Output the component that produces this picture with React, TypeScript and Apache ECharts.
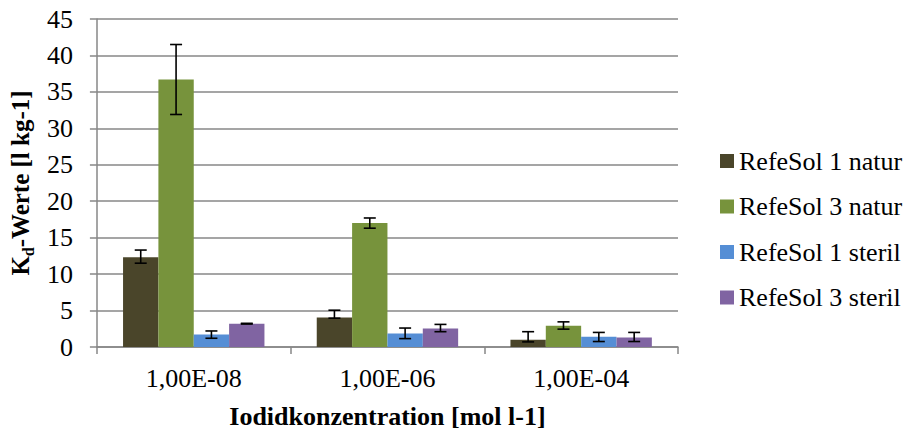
import React, { useEffect, useRef } from "react";
import * as echarts from "echarts";

// Iodide concentrations (x categories)
const categories = ["1,00E-08", "1,00E-06", "1,00E-04"];

// Kd values per soil sample
const seriesNames = ["RefeSol 1 natur", "RefeSol 3 natur", "RefeSol 1 steril", "RefeSol 3 steril"];
const refesol1Natur = [12.3, 4.05, 1.0];
const refesol3Natur = [36.7, 17.0, 2.9];
const refesol1Steril = [1.7, 1.85, 1.4];
const refesol3Steril = [3.2, 2.55, 1.3];

// Error bar ranges (lower / upper end)
const refesol1NaturLow = [11.5, 3.95, 0.7];
const refesol1NaturHigh = [13.3, 5.05, 2.1];
const refesol3NaturLow = [31.9, 16.3, 2.45];
const refesol3NaturHigh = [41.5, 17.7, 3.45];
const refesol1SterilLow = [1.2, 1.15, 0.75];
const refesol1SterilHigh = [2.2, 2.6, 2.0];
const refesol3SterilLow = [3.15, 2.1, 0.75];
const refesol3SterilHigh = [3.25, 3.1, 2.0];

// Y-axis scale
const yMin = 0;
const yMax = 45;
const yStep = 5;

const colors = ["#4A452A", "#77933C", "#558ED5", "#8064A2"];

const FONT = "'Liberation Serif', 'Times New Roman', serif";
const FS = 26;
const AXIS_GREY = "#878787";
const CATEGORY_GAP = 0.27;

export default function App() {
  const ref = useRef<HTMLDivElement>(null);

  useEffect(() => {
    if (!ref.current) return;
    const chart = echarts.init(ref.current, undefined, { renderer: "svg" });

    const values = [refesol1Natur, refesol3Natur, refesol1Steril, refesol3Steril];
    const lows = [refesol1NaturLow, refesol3NaturLow, refesol1SterilLow, refesol3SterilLow];
    const highs = [refesol1NaturHigh, refesol3NaturHigh, refesol1SterilHigh, refesol3SterilHigh];

    const errorData: number[][] = [];
    lows.forEach((lowArr, si) => {
      lowArr.forEach((lo, ci) => {
        errorData.push([ci, lo, highs[si][ci], si]);
      });
    });

    const barSeries = seriesNames.map((name, i) => ({
      name,
      type: "bar",
      data: values[i],
      barGap: "0%",
      barCategoryGap: `${CATEGORY_GAP * 100}%`,
      itemStyle: { color: colors[i] },
      z: 2,
    }));

    const option = {
      animation: false,
      backgroundColor: "#ffffff",
      grid: { left: 94, top: 19, right: 229, bottom: 83, containLabel: false },
      legend: {
        data: seriesNames,
        orient: "vertical",
        left: 720,
        top: 148,
        padding: 0,
        itemWidth: 14,
        itemHeight: 14,
        itemGap: 19.5,
        icon: "rect",
        textStyle: { fontFamily: FONT, fontSize: FS, color: "#000" },
      },
      xAxis: {
        type: "category",
        data: categories,
        name: "Iodidkonzentration [mol l-1]",
        nameLocation: "middle",
        nameGap: 56,
        nameTextStyle: { fontFamily: FONT, fontSize: FS, fontWeight: "bold", color: "#000" },
        axisLine: { lineStyle: { color: AXIS_GREY, width: 1.5 } },
        axisTick: { show: true, length: 7, lineStyle: { color: AXIS_GREY, width: 1.5 } },
        axisLabel: { fontFamily: FONT, fontSize: FS, color: "#000", margin: 18 },
      },
      yAxis: {
        type: "value",
        min: yMin,
        max: yMax,
        interval: yStep,
        name: "{a|K}{b|d}{a|-Werte [l kg-1]}",
        nameLocation: "middle",
        nameGap: 59,
        nameRotate: 90,
        nameTextStyle: {
          fontFamily: FONT,
          fontWeight: "bold",
          color: "#000",
          rich: {
            a: { fontFamily: FONT, fontSize: 25, fontWeight: "bold", color: "#000", lineHeight: 25, verticalAlign: "top" },
            b: { fontFamily: FONT, fontSize: 16, fontWeight: "bold", color: "#000", lineHeight: 16, verticalAlign: "top", padding: [12, 0, 0, 0] },
          },
        },
        axisLine: { show: true, lineStyle: { color: AXIS_GREY, width: 1.5 } },
        axisTick: { show: true, length: 7, lineStyle: { color: AXIS_GREY, width: 1.5 } },
        axisLabel: { fontFamily: FONT, fontSize: FS, color: "#000", margin: 24 },
        splitLine: { show: true, lineStyle: { color: AXIS_GREY, width: 1.5 } },
      },
      series: [
        ...barSeries,
        {
          name: "Fehlerbalken",
          type: "custom",
          data: errorData,
          z: 5,
          encode: { x: 0, y: [1, 2] },
          renderItem: (params: any, api: any) => {
            const cat = api.value(0);
            const lo = api.value(1);
            const hi = api.value(2);
            const si = api.value(3);
            const band = api.size([1, 0])[0];
            const barW = (band * (1 - CATEGORY_GAP)) / seriesNames.length;
            const pLo = api.coord([cat, lo]);
            const pHi = api.coord([cat, hi]);
            const x = pLo[0] + (si - (seriesNames.length - 1) / 2) * barW;
            const cap = 6;
            const style = { stroke: "#000", lineWidth: 1.6 };
            return {
              type: "group",
              children: [
                { type: "line", shape: { x1: x, y1: pLo[1], x2: x, y2: pHi[1] }, style },
                { type: "line", shape: { x1: x - cap, y1: pHi[1], x2: x + cap, y2: pHi[1] }, style },
                { type: "line", shape: { x1: x - cap, y1: pLo[1], x2: x + cap, y2: pLo[1] }, style },
              ],
            };
          },
        },
      ],
    };

    chart.setOption(option as any);
    return () => chart.dispose();
  }, []);

  return (
    <div
      ref={ref}
      style={{ position: "fixed", left: 0, top: 0, width: 907, height: 434, background: "#fff" }}
    />
  );
}
